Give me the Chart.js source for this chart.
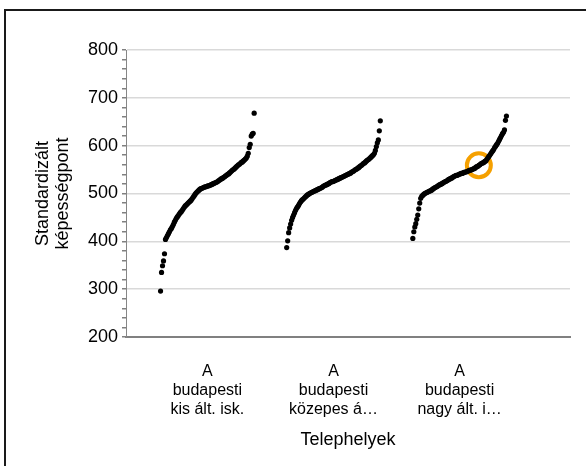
<!DOCTYPE html>
<html>
<head>
<meta charset="utf-8">
<script src="https://cdn.jsdelivr.net/npm/chart.js@4.4.1/dist/chart.umd.min.js"></script>
<style>
  body { margin: 0; background: #fff; overflow: hidden; }
  #frame { position: absolute; left: 4px; top: 9px; width: 700px; height: 600px;
           border-left: 2px solid #1a1a1a; border-top: 2px solid #1a1a1a; }
  #chart { position: absolute; left: 0; top: 0; }
</style>
</head>
<body>
<div id="frame"></div>
<canvas id="chart" width="586" height="466"></canvas>
<script>
// Categories (sites) and their tick labels
const categories = ['A budapesti kis ált. isk.', 'A budapesti közepes ált. isk.', 'A budapesti nagy ált. isk.'];
const tickLabels = [
    ['A', 'budapesti', 'kis ált. isk.'],
    ['A', 'budapesti', 'közepes á…'],
    ['A', 'budapesti', 'nagy ált. i…']
];

// Standardised ability scores of students, sorted, one list per site
const smallSchool = [
    296, 335, 349, 359, 374, 404, 408, 412, 416, 420, 424, 427, 431, 435, 440, 444,
    448, 451, 454, 457, 460, 462, 465, 468, 471, 474, 476, 478, 480, 482, 484, 486,
    489, 492, 495, 498, 501, 503, 505, 507, 509, 510, 511, 512, 513, 514, 514, 515,
    516, 516, 517, 518, 519, 520, 521, 522, 523, 524, 525, 527, 528, 530, 531, 532,
    534, 535, 537, 538, 540, 541, 543, 545, 547, 549, 550, 552, 554, 556, 558, 560,
    561, 563, 565, 566, 568, 570, 572, 574, 578, 584, 596, 603, 620, 624, 626, 668
];
const mediumSchool = [
    387, 401, 418, 428, 436, 444, 450, 455, 460, 465, 469, 472, 475, 479, 482, 485,
    487, 489, 491, 493, 495, 497, 498, 500, 501, 502, 503, 504, 505, 506, 507, 508,
    509, 510, 511, 512, 513, 515, 516, 517, 518, 519, 520, 521, 523, 524, 525, 525,
    526, 527, 528, 529, 530, 531, 532, 533, 534, 535, 536, 537, 538, 539, 540, 541,
    542, 543, 545, 546, 547, 549, 550, 551, 553, 554, 556, 558, 559, 561, 563, 564,
    566, 568, 570, 571, 573, 575, 577, 579, 581, 584, 590, 598, 606, 612, 631, 652
];
const largeSchool = [
    406, 420, 430, 437, 446, 455, 468, 480, 490, 494, 496, 498, 500, 501, 502, 503,
    504, 505, 506, 507, 509, 510, 512, 513, 514, 515, 517, 518, 519, 520, 521, 523,
    524, 525, 526, 527, 529, 530, 531, 532, 533, 535, 536, 537, 538, 538, 539, 540,
    541, 542, 542, 543, 544, 545, 545, 546, 547, 548, 549, 549, 550, 551, 552, 553,
    555, 556, 557, 559, 560, 562, 563, 564, 565, 567, 568, 571, 574, 577, 580, 583,
    586, 589, 592, 596, 599, 602, 605, 609, 613, 617, 621, 625, 628, 633, 653, 662
];
const groups = [smallSchool, mediumSchool, largeSchool];

// highlighted student (in the large school)
const highlightGroup = 2;
const highlightIndex = 67;

// spread the sorted scores of a site across its slot on the x axis
function spread(values, g) {
    const n = values.length;
    return values.map((v, i) => ({ x: g + 1 + (i - (n - 1) / 2) / n * 0.75, y: v }));
}

const points = groups.map((vals, g) => spread(vals, g));
const highlight = [points[highlightGroup][highlightIndex]];

const ctx = document.getElementById('chart').getContext('2d');
new Chart(ctx, {
    type: 'scatter',
    data: {
        datasets: [
            ...points.map((pts, g) => ({
                label: categories[g],
                data: pts,
                pointRadius: 2.6,
                pointBackgroundColor: '#000',
                pointBorderWidth: 0
            })),
            {
                label: 'dot',
                data: highlight,
                pointRadius: 2.4,
                pointBackgroundColor: '#f5a000',
                pointBorderWidth: 0
            },
            {
                label: 'ring',
                data: highlight,
                pointRadius: 12,
                pointBackgroundColor: 'rgba(0,0,0,0)',
                pointBorderColor: '#f5a000',
                pointBorderWidth: 4
            }
        ]
    },
    options: {
        responsive: false,
        animation: false,
        devicePixelRatio: 1,
        layout: { padding: { left: 0, right: 12, top: 50, bottom: 15 } },
        plugins: { legend: { display: false }, tooltip: { enabled: false } },
        scales: {
            x: {
                type: 'linear',
                min: 0.355,
                max: 3.875,
                afterBuildTicks: scale => { scale.ticks = [1, 2, 3].map(v => ({ value: v })); },
                afterFit: scale => { scale.height = 114; },
                grid: { display: false, drawTicks: false },
                border: { display: true, color: '#808080', width: 2 },
                ticks: {
                    autoSkip: false,
                    maxRotation: 0,
                    padding: 25,
                    color: '#000',
                    font: { family: 'Liberation Sans', size: 16 },
                    callback: v => tickLabels[v - 1]
                },
                title: {
                    display: true,
                    text: 'Telephelyek',
                    color: '#000',
                    padding: { top: 0, bottom: 0 },
                    font: { family: 'Liberation Sans', size: 18 }
                }
            },
            y: {
                min: 200,
                max: 800,
                afterFit: scale => { scale.width = 126; },
                grid: {
                    color: c => (c.tick && c.tick.value % 100 === 0) ? '#d9d9d9' : 'rgba(0,0,0,0)',
                    lineWidth: 1.5,
                    tickColor: '#808080',
                    tickLength: 4
                },
                border: { display: true, color: '#868686', width: 1 },
                ticks: {
                    stepSize: 20,
                    autoSkip: false,
                    padding: 4,
                    color: '#000',
                    font: { family: 'Liberation Sans', size: 18 },
                    callback: v => (v % 100 === 0 ? v : '')
                },
                title: {
                    display: true,
                    text: ['Standardizált', 'képességpont'],
                    color: '#000',
                    padding: { top: 33, bottom: 0 },
                    font: { family: 'Liberation Sans', size: 18, lineHeight: 1.11 }
                }
            }
        }
    }
});
</script>
</body>
</html>
